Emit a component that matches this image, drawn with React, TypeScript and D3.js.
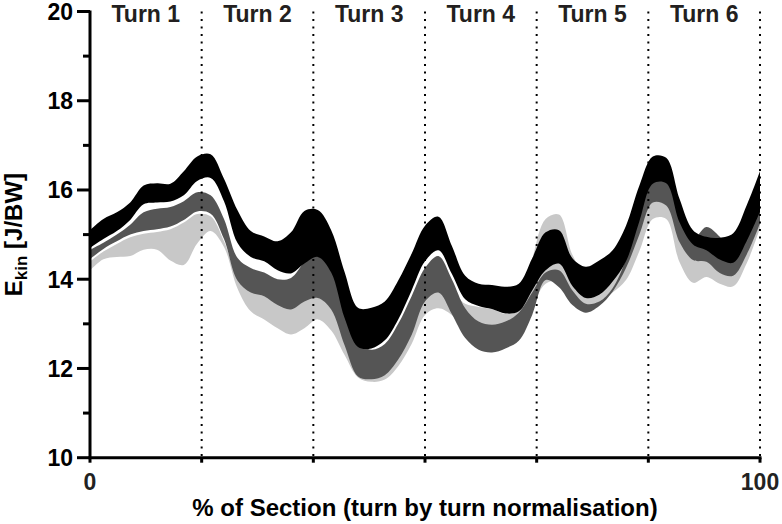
import React from "react";
import * as d3 from "d3";

// ---- data ----
const X = [
  0, 2, 4, 6, 8, 10, 12, 14, 16, 18,
  20, 22, 24, 26, 28, 30, 32, 34, 36, 38,
  40, 42, 44, 46, 48, 50, 52, 54, 56, 58,
  60, 62, 64, 66, 68, 70, 72, 74, 76, 78,
  80, 82, 84, 86, 88, 90, 92, 94, 96, 98,
  100,
];

const blackUpper = [
  15.1, 15.35, 15.5, 15.72, 16.1, 16.15, 16.14, 16.42, 16.75, 16.8,
  16.25, 15.55, 15.08, 14.96, 14.85, 15.05, 15.53, 15.55, 15.1, 14.16,
  13.36, 13.36, 13.5, 13.97, 14.57, 15.2, 15.4, 14.75, 14.08, 13.9,
  13.87, 13.83, 13.9, 14.47, 15.05, 15.1, 14.47, 14.28, 14.42, 14.65,
  15.2, 16.1, 16.75, 16.72, 15.8, 15.1, 14.95, 14.93, 15.03, 15.65,
  16.42,
];
const blackLower = [
  14.7, 14.9, 15.08, 15.33, 15.68, 15.72, 15.74, 15.88, 16.2, 16.27,
  15.75, 14.82, 14.5, 14.4, 14.2, 14.13, 14.35, 14.5, 14.15, 13.13,
  12.48, 12.45, 12.63, 13.1, 13.75, 14.4, 14.65, 14.12, 13.55, 13.4,
  13.33, 13.23, 13.28, 13.75, 14.2, 14.35, 13.85, 13.58, 13.65, 13.95,
  14.4, 15.3, 16.14, 16.15, 15.27, 14.78, 14.65, 14.44, 14.37, 14.85,
  15.51,
];
const darkUpper = [
  14.66, 14.82, 15.0, 15.22, 15.5, 15.58, 15.62, 15.75, 15.95, 15.88,
  15.35, 14.48, 14.25, 14.15, 14.0, 14.03, 14.38, 14.6, 14.3, 13.3,
  12.6, 12.42, 12.55, 13.0, 13.62, 14.25, 14.52, 14.0, 13.35, 13.05,
  12.98, 13.05, 13.25, 13.7, 14.15, 14.2, 13.75, 13.45, 13.5, 13.8,
  14.45, 15.4, 16.3, 16.3, 15.4, 14.9, 15.17, 14.95, 14.55, 14.95,
  15.55,
];
const darkLower = [
  14.45, 14.68, 14.85, 15.0, 15.08, 15.12, 15.18, 15.33, 15.52, 15.47,
  14.9, 13.97, 13.7, 13.62, 13.42, 13.32, 13.5, 13.58, 13.32, 12.52,
  11.82, 11.76, 11.85, 12.2, 12.75, 13.5, 13.7, 13.22, 12.68, 12.42,
  12.36, 12.45, 12.62, 13.2, 13.98, 13.82, 13.42, 13.25, 13.4, 13.72,
  14.25, 15.0, 15.72, 15.65, 14.83, 14.43, 14.39, 14.14, 14.08, 14.55,
  15.25,
];
const lightUpper = [
  14.4, 14.62, 14.79, 14.94, 15.02, 15.06, 15.12, 15.27, 15.46, 15.41,
  14.85, 14.07, 13.8, 13.72, 13.52, 13.42, 13.6, 13.68, 13.45, 12.6,
  11.92, 11.86, 11.95, 12.3, 12.85, 13.6, 13.85, 13.75, 13.45, 13.38,
  13.33, 13.22, 13.3, 14.45, 15.35, 15.45, 14.55, 14.1, 14.1, 14.3,
  14.8, 15.3, 15.85, 15.8, 15.0, 14.55, 14.5, 14.3, 14.2, 14.7,
  15.4,
];
const lightLower = [
  14.2, 14.45, 14.5, 14.52, 14.66, 14.66, 14.42, 14.32, 14.8, 15.08,
  14.72, 13.8, 13.28, 13.1, 12.9, 12.76, 12.9, 13.1, 12.85, 12.3,
  11.8, 11.7, 11.75, 12.05, 12.55, 13.2, 13.35, 13.2, 12.9, 12.7,
  12.7, 12.75, 12.9, 13.4, 13.9, 13.95, 13.5, 13.3, 13.5, 13.7,
  13.98, 14.63, 15.35, 15.35, 14.38, 13.92, 14.05, 13.9, 13.84, 14.35,
  15.15,
];

const turnLabels = ["Turn 1", "Turn 2", "Turn 3", "Turn 4", "Turn 5", "Turn 6"];
const yMajorTicks = [10, 12, 14, 16, 18, 20];
const yMinorTicks = [11, 13, 15, 17, 19];
const xTickLabels = [0, 100];

const FONT = "'Liberation Sans', Arial, Helvetica, sans-serif";

export default function App() {
  const W = 782;
  const H = 524;
  const x = d3.scaleLinear().domain([0, 100]).range([90, 760]);
  const y = d3.scaleLinear().domain([10, 20]).range([457.7, 11.5]);

  const mk = (lo: number[], hi: number[]) =>
    d3
      .area<number>()
      .x((_, i) => x(X[i]))
      .y0((_, i) => y(lo[i]))
      .y1((_, i) => y(hi[i]))
      .curve(d3.curveCatmullRom.alpha(0.5))(X) as string;

  const bands = [
    { lo: lightLower, hi: lightUpper, color: "#c8c8c8" },
    { lo: darkLower, hi: darkUpper, color: "#555555" },
    { lo: blackLower, hi: blackUpper, color: "#000000" },
  ];

  const seg = 100 / turnLabels.length;
  const boundaries = turnLabels.map((_, i) => (i + 1) * seg);

  return (
    <svg
      width={W}
      height={H}
      style={{ position: "absolute", left: 0, top: 0, background: "#fff" }}
      fontFamily={FONT}
      fontWeight="bold"
    >
      {bands.map((b, i) => (
        <path key={i} d={mk(b.lo, b.hi)} fill={b.color} stroke="none" />
      ))}

      {boundaries.map((b, i) => (
        <line
          key={i}
          x1={x(b)}
          x2={x(b)}
          y1={y(20)}
          y2={y(10)}
          stroke="#000"
          strokeWidth={2}
          strokeDasharray="2 5.5"
        />
      ))}

      {turnLabels.map((t, i) => (
        <text
          key={t}
          x={x(i * seg + seg / 2)}
          y={22}
          textAnchor="middle"
          fontSize={23}
          fill="#231f20"
        >
          {t}
        </text>
      ))}

      {/* y axis */}
      <line x1={x(0)} x2={x(0)} y1={y(20) - 1} y2={y(10) + 1} stroke="#000" strokeWidth={3} />
      {yMajorTicks.map((t) => (
        <g key={t}>
          <line x1={x(0) - 13} x2={x(0)} y1={y(t)} y2={y(t)} stroke="#000" strokeWidth={3} />
          <text x={73} y={y(t) + 8.5} textAnchor="end" fontSize={23} fill="#000">
            {t}
          </text>
        </g>
      ))}
      {yMinorTicks.map((t) => (
        <line key={t} x1={x(0) - 7} x2={x(0)} y1={y(t)} y2={y(t)} stroke="#000" strokeWidth={3} />
      ))}

      {/* x axis */}
      <line x1={x(0) - 1.5} x2={x(100) + 1.5} y1={y(10)} y2={y(10)} stroke="#000" strokeWidth={3} />
      {[0, ...boundaries].map((b, i) => (
        <line key={i} x1={x(b)} x2={x(b)} y1={y(10)} y2={y(10) + 5} stroke="#000" strokeWidth={3} />
      ))}
      {xTickLabels.map((t) => (
        <text key={t} x={x(t)} y={490} textAnchor="middle" fontSize={23} fill="#222">
          {t}
        </text>
      ))}

      <text x={(x(0) + x(100)) / 2} y={516} textAnchor="middle" fontSize={24} fill="#000">
        % of Section (turn by turn normalisation)
      </text>

      <text
        transform={`translate(22, ${(y(10) + y(20)) / 2}) rotate(-90)`}
        textAnchor="middle"
        fontSize={24}
        fill="#000"
      >
        E
        <tspan fontSize={17} dy={5}>
          kin
        </tspan>
        <tspan dy={-5}> [J/BW]</tspan>
      </text>
    </svg>
  );
}
